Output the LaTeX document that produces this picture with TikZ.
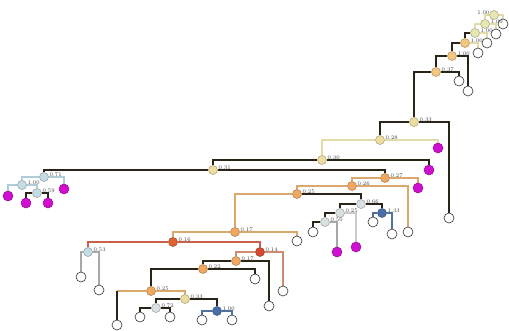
\documentclass[tikz,border=0pt]{standalone}
\usetikzlibrary{backgrounds}
\definecolor{dk}{HTML}{2A2418}
\definecolor{tanc}{HTML}{D9A86A}
\definecolor{paley}{HTML}{E4DCA8}
\definecolor{redc}{HTML}{C8604A}
\definecolor{rose}{HTML}{D08A70}
\definecolor{greyc}{HTML}{A8A8A8}
\definecolor{bluee}{HTML}{5070A0}
\definecolor{pbl}{HTML}{B0CCD6}
\definecolor{mag}{HTML}{D010D0}
\definecolor{cY}{HTML}{EEDDA0}
\definecolor{cYG}{HTML}{E6E8B0}
\definecolor{cO}{HTML}{F0A860}
\definecolor{cLO}{HTML}{F2C880}
\definecolor{cR}{HTML}{E06030}
\definecolor{cRR}{HTML}{D84A30}
\definecolor{cB}{HTML}{4A6FA8}
\definecolor{cPB}{HTML}{C4DCE4}
\definecolor{cG}{HTML}{D8E0E0}
\tikzset{
  inode/.style={circle, draw=#1!70!black, fill=#1, minimum size=9pt, inner sep=0pt, line width=0.5pt},
  wleaf/.style={circle, draw=black!80, fill=white, minimum size=10pt, inner sep=0pt, line width=0.6pt},
  mleaf/.style={circle, draw=mag!70!black, fill=mag, minimum size=10pt, inner sep=0pt, line width=0.5pt},
  lab/.style={font=\fontsize{5.5}{6}\selectfont, anchor=south west, inner sep=0.5pt, text=black!75},
  ed/.style={draw=#1, line width=1.2pt},
  edt/.style={draw=#1, line width=2pt},
}
\begin{document}
\begin{tikzpicture}[x=1pt,y=-1pt]
\useasboundingbox (0,0) rectangle (509,331);
% internal nodes
\node[inode=cYG] (T4) at (494,15) {};
\node[inode=cYG] (T3) at (485,24) {};
\node[inode=cYG] (T2) at (475,33) {};
\node[inode=cLO] (T1) at (465,43) {};
\node[inode=cLO] (A) at (452,56) {};
\node[inode=cLO] (B) at (436,72) {};
\node[inode=cY] (C) at (414,122) {};
\node[inode=cY] (D) at (380,140) {};
\node[inode=cY] (E) at (322,160) {};
\node[inode=cY] (F) at (213,170) {};
\node[inode=cPB] (G) at (44,177) {};
\node[inode=cPB] (G1) at (22,185) {};
\node[inode=cPB] (G2) at (37,193) {};
\node[inode=cO] (H) at (385,178) {};
\node[inode=cO] (I) at (352,186) {};
\node[inode=cO] (J) at (297,194) {};
\node[inode=cG] (L) at (361,204) {};
\node[inode=cB] (N) at (382,213) {};
\node[inode=cG] (M) at (340,213) {};
\node[inode=cG] (O) at (325,222) {};
\node[inode=cO] (K) at (235,232) {};
\node[inode=cR] (P) at (173,242) {};
\node[inode=cPB] (Q) at (88,252) {};
\node[inode=cRR] (R) at (260,252) {};
\node[inode=cO] (S) at (236,261) {};
\node[inode=cO] (T) at (203,269) {};
\node[inode=cO] (U) at (151,291) {};
\node[inode=cY] (V) at (185,299) {};
\node[inode=cG] (W) at (156,308) {};
\node[inode=cB] (X) at (217,311) {};
% leaves
\node[wleaf] (l1) at (478,53) {};
\node[wleaf] (l2) at (487,43) {};
\node[wleaf] (l3) at (496,34) {};
\node[wleaf] (l4) at (503,24) {};
\node[wleaf] (l5) at (468,91) {};
\node[wleaf] (l6) at (459,81) {};
\node[wleaf] (l7) at (449,218) {};
\node[mleaf] (m1) at (438,148) {};
\node[mleaf] (m2) at (429,170) {};
\node[mleaf] (m3) at (64,189) {};
\node[mleaf] (m4) at (8,196) {};
\node[mleaf] (m5) at (26,203) {};
\node[mleaf] (m6) at (48,203) {};
\node[mleaf] (m7) at (418,188) {};
\node[wleaf] (l8) at (408,232) {};
\node[wleaf] (l9) at (373,222) {};
\node[wleaf] (l10) at (392,234) {};
\node[mleaf] (m8) at (356,247) {};
\node[mleaf] (m9) at (337,252) {};
\node[wleaf] (l11) at (313,232) {};
\node[wleaf] (l12) at (297,241) {};
\node[wleaf] (l13) at (81,277) {};
\node[wleaf] (l14) at (99,290) {};
\node[wleaf] (l15) at (283,291) {};
\node[wleaf] (l16) at (269,306) {};
\node[wleaf] (l17) at (255,279) {};
\node[wleaf] (l18) at (117,325) {};
\node[wleaf] (l19) at (140,317) {};
\node[wleaf] (l20) at (170,317) {};
\node[wleaf] (l21) at (202,320) {};
\node[wleaf] (l22) at (232,320) {};
% labels
\foreach \n/\t in {T3/1.00,T2/1.00,T1/1.00,A/1.00,B/0.37,C/0.33,D/0.28,E/0.30,F/0.31,G/0.71,G1/1.00,G2/0.59,H/0.27,I/0.26,J/0.25,L/0.66,N/1.33,M/0.25,O/0.50,K/0.17,P/0.16,Q/0.53,R/0.14,S/0.17,T/0.22,U/0.25,V/0.33,W/0.72,X/1.00}
  \node[lab] at ([xshift=5pt]\n.center) {\t};
\node[lab, anchor=south east] at ([xshift=-4pt]T4.center) {1.00};
% edges
\begin{scope}[on background layer]
\draw[ed=paley] (T4) -| (T3); \draw[ed=paley] (T4) -| (l4);
\draw[ed=paley] (T3) -| (T2); \draw[ed=paley] (T3) -| (l3);
\draw[ed=dk] (T2) -| (T1); \draw[ed=paley] (T2) -| (l2);
\draw[edt=dk] (T1) -| (A); \draw[ed=paley] (T1) -| (l1);
\draw[edt=dk] (A) -| (B); \draw[ed=dk] (A) -| (l5);
\draw[ed=dk] (B) -| (C); \draw[ed=dk] (B) -| (l6);
\draw[ed=dk] (C) -| (D); \draw[edt=dk] (C) -| (l7);
\draw[ed=paley] (D) -| (E); \draw[ed=paley] (D) -| (m1);
\draw[edt=dk] (E) -| (F); \draw[edt=dk] (E) -| (m2);
\draw[ed=dk] (F) -| (G); \draw[ed=dk] (F) -| (H);
\draw[ed=pbl] (G) -| (G1); \draw[ed=pbl] (G) -| (m3);
\draw[ed=pbl] (G1) -| (m4); \draw[ed=pbl] (G1) -| (G2);
\draw[edt=dk] (G2) -| (m5); \draw[edt=dk] (G2) -| (m6);
\draw[ed=tanc] (H) -| (I); \draw[ed=tanc] (H) -| (m7);
\draw[ed=tanc] (I) -| (J); \draw[ed=tanc] (I) -| (l8);
\draw[ed=tanc] (J) -| (K); \draw[ed=dk] (J) -| (L);
\draw[edt=dk] (L) -| (M); \draw[edt=dk] (L) -| (N);
\draw[ed=bluee] (N) -| (l9); \draw[ed=bluee] (N) -| (l10);
\draw[edt=dk] (M) -| (O); \draw[ed=greyc!60] (M) -| (m8);
\draw[ed=dk] (O) -| (l11); \draw[ed=greyc] (O) -| (m9);
\draw[ed=tanc] (K) -| (P); \draw[ed=tanc] (K) -| (l12);
\draw[ed=redc] (P) -| (Q); \draw[ed=redc] (P) -| (R);
\draw[ed=greyc] (Q) -| (l13); \draw[ed=greyc] (Q) -| (l14);
\draw[ed=rose] (R) -| (S); \draw[ed=rose] (R) -| (l15);
\draw[ed=dk] (S) -| (T); \draw[ed=dk] (S) -| (l16);
\draw[edt=dk] (T) -| (U); \draw[ed=dk] (T) -| (l17);
\coordinate (u18) at (l18 |- U);
\draw[ed=tanc] (U) -- (u18); \draw[edt=dk] (u18) -- (l18);
\draw[ed=tanc] (U) -| (V);
\draw[ed=dk] (V) -| (W); \draw[ed=dk] (V) -| (X);
\draw[ed=dk] (W) -| (l19); \draw[ed=dk] (W) -| (l20);
\draw[ed=bluee] (X) -| (l21); \draw[ed=bluee] (X) -| (l22);
\end{scope}
\end{tikzpicture}
\end{document}
